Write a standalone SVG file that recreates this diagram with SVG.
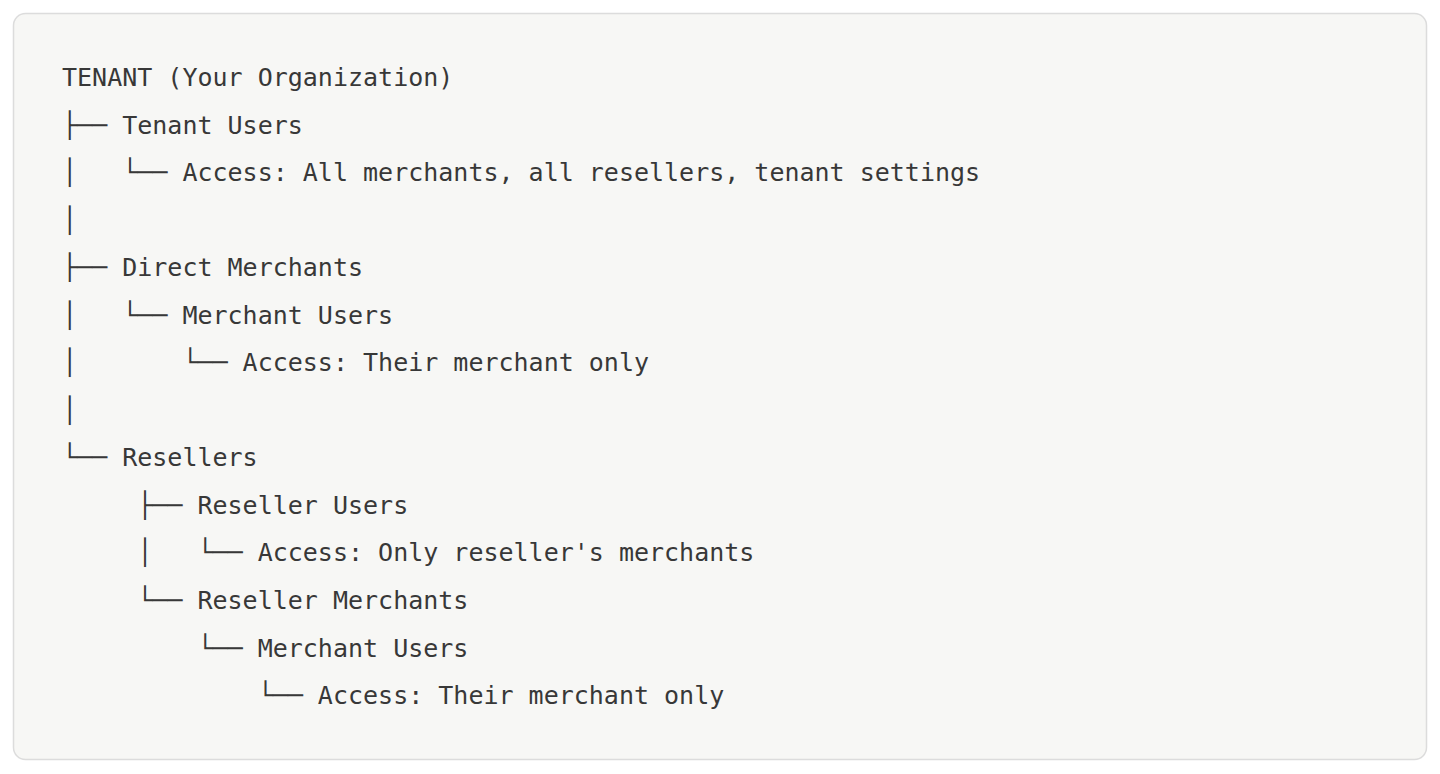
<svg xmlns="http://www.w3.org/2000/svg" width="1440" height="774" viewBox="0 0 1440 774">
<style>
.t{font-family:"DejaVu Sans Mono","Liberation Mono",monospace;font-size:25px;fill:#383838;white-space:pre}
</style>
<rect x="0" y="0" width="1440" height="774" fill="#ffffff"/>
<rect id="frame" x="13.5" y="13.5" width="1413" height="746" rx="12" ry="12" fill="#f7f7f5" stroke="#dcdcdc" stroke-width="1.5"/>
<g id="tree" xml:space="preserve">
<g id="n-tenant"><text class="t" x="62" y="86">TENANT (Your Organization)</text></g>
<g id="n-tenant-users"><text class="t" x="62" y="133.5">├── Tenant Users</text></g>
<g id="n-tenant-access"><text class="t" x="62" y="181">│   └── Access: All merchants, all resellers, tenant settings</text></g>
<g id="l-4"><text class="t" x="62" y="228.6">│</text></g>
<g id="n-direct"><text class="t" x="62" y="276.2">├── Direct Merchants</text></g>
<g id="n-direct-users"><text class="t" x="62" y="323.7">│   └── Merchant Users</text></g>
<g id="n-direct-access"><text class="t" x="62" y="371.2">│       └── Access: Their merchant only</text></g>
<g id="l-8"><text class="t" x="62" y="418.8">│</text></g>
<g id="n-resellers"><text class="t" x="62" y="466.3">└── Resellers</text></g>
<g id="n-reseller-users"><text class="t" x="62" y="513.9">     ├── Reseller Users</text></g>
<g id="n-reseller-access"><text class="t" x="62" y="561.4">     │   └── Access: Only reseller's merchants</text></g>
<g id="n-reseller-merchants"><text class="t" x="62" y="609">     └── Reseller Merchants</text></g>
<g id="n-rm-users"><text class="t" x="62" y="656.5">         └── Merchant Users</text></g>
<g id="n-rm-access"><text class="t" x="62" y="704">             └── Access: Their merchant only</text></g>
</g>
</svg>
